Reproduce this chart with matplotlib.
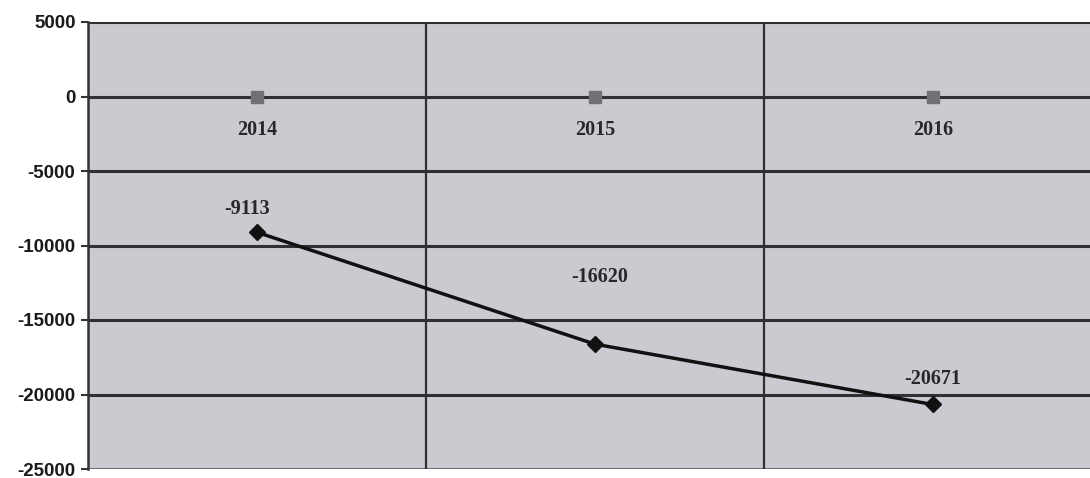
import matplotlib.pyplot as plt

years = ['2014', '2015', '2016']
base = [0, 0, 0]
values = [-9113, -16620, -20671]
yticks = [5000, 0, -5000, -10000, -15000, -20000, -25000]
# 数据标签的偏移 (points)
label_offsets = [(-7, 16.5), (3.6, 48), (0, 18)]

fig = plt.figure(figsize=(10.9, 4.78), dpi=100)
ax = fig.add_axes([88 / 1090, 9 / 478, 1002 / 1090, 447 / 478])
ax.set_facecolor('#c9cbd0')

x = range(len(years))
ax.set_xlim(-0.5, 2.465)
ax.set_ylim(-25000, 5000)

# 横向网格线 (最底下那条较浅)
for v in yticks[:-1]:
    ax.axhline(v, color='#2e3033', lw=2.2, zorder=1)
ax.axhline(yticks[-1], color='#5a5c60', lw=1.2, zorder=1)
# 类别分隔线
for b in [0.5, 1.5]:
    ax.axvline(b, color='#2e3033', lw=1.6, zorder=1)

ax.plot(x, base, ls='none', marker='s', ms=9, color='#6f7175', zorder=3)
ax.plot(x, values, color='#111111', lw=2.5, marker='D', ms=8, zorder=4)

for i, v in enumerate(values):
    ax.annotate(str(v), xy=(i, v), xytext=label_offsets[i], textcoords='offset points',
                ha='center', va='center', fontsize=14.5, fontweight='bold',
                family='Liberation Serif', color='#26282b')

# 类别标签放在0线下方
for i, y in enumerate(years):
    ax.annotate(y, xy=(i, 0), xytext=(0, -24), textcoords='offset points',
                ha='center', va='center', fontsize=14.5, fontweight='bold',
                family='Liberation Serif', color='#26282b')

ax.set_xticks([])
ax.set_yticks(yticks)
ax.set_yticklabels([str(t) for t in yticks], fontsize=13.5, fontweight='bold',
                   family='Liberation Sans', color='#1a1a1a')
ax.tick_params(axis='y', length=5, width=1.5, color='#333333', pad=4)
for s in ['top', 'right', 'bottom']:
    ax.spines[s].set_visible(False)
ax.spines['left'].set_color('#333333')
ax.spines['left'].set_linewidth(1.8)

plt.savefig('out.png', dpi=100)
